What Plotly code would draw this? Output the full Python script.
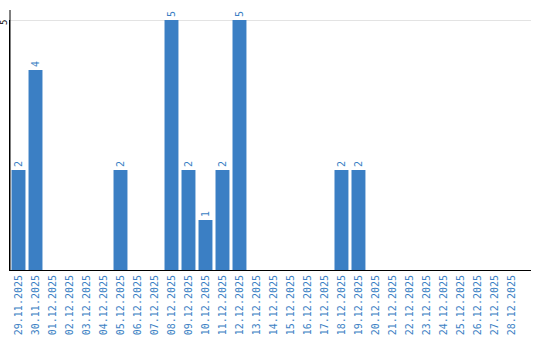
import plotly.graph_objects as go

dates = ["29.11.2025", "30.11.2025", "01.12.2025", "02.12.2025", "03.12.2025",
         "04.12.2025", "05.12.2025", "06.12.2025", "07.12.2025", "08.12.2025",
         "09.12.2025", "10.12.2025", "11.12.2025", "12.12.2025", "13.12.2025",
         "14.12.2025", "15.12.2025", "16.12.2025", "17.12.2025", "18.12.2025",
         "19.12.2025", "20.12.2025", "21.12.2025", "22.12.2025", "23.12.2025",
         "24.12.2025", "25.12.2025", "26.12.2025", "27.12.2025", "28.12.2025"]
counts = [2, 4, 0, 0, 0, 0, 2, 0, 0, 5, 2, 1, 2, 5, 0, 0, 0, 0, 0, 2, 2,
          0, 0, 0, 0, 0, 0, 0, 0, 0]
labels = [str(v) if v else "" for v in counts]
y_ticks = [5]

blue = "#3b7fc4"
fig = go.Figure(go.Bar(
    x=list(range(len(dates))), y=counts, text=labels,
    textposition="outside", textangle=-90, cliponaxis=False,
    constraintext="none",
    textfont=dict(family="DejaVu Sans Mono", size=10, color=blue),
    marker=dict(color=blue, line=dict(width=0)),
))
fig.update_layout(
    width=540, height=340, margin=dict(l=10, r=9, t=20, b=70),
    plot_bgcolor="white", paper_bgcolor="white", bargap=0.18,
    showlegend=False,
)
fig.update_xaxes(
    tickvals=list(range(len(dates))), ticktext=dates, tickangle=-90,
    range=[-0.5, 30.15], showline=True, linecolor="black", linewidth=1,
    showgrid=False, ticks="", automargin=False,
    tickfont=dict(family="DejaVu Sans Mono", size=10, color=blue),
)
fig.update_yaxes(
    range=[0, 5], tickvals=y_ticks, showticklabels=False,
    showline=True, linecolor="black", linewidth=1,
    showgrid=False, zeroline=False, ticks="", automargin=False,
)
# y axis line extends a little above the plot area
fig.add_shape(type="line", xref="paper", x0=0, x1=0, yref="paper", y0=0, y1=1.04,
              line=dict(color="black", width=1))
for t in y_ticks:
    fig.add_shape(type="line", xref="paper", x0=0, x1=1, yref="y", y0=t, y1=t,
                  line=dict(color="#c8c8c8", width=1), layer="below")
    fig.add_annotation(
        x=0, xref="paper", y=t, yref="y", text=str(t), textangle=-90,
        showarrow=False, xanchor="center", yanchor="middle",
        xshift=-6, yshift=-3,
        font=dict(family="DejaVu Sans Mono", size=9, color="black"),
    )
fig.write_html("out.html")
